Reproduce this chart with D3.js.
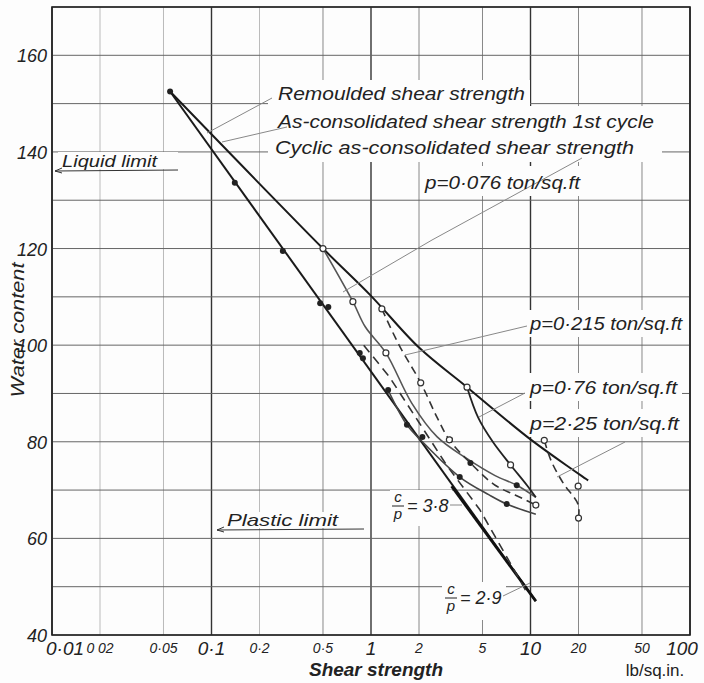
<!DOCTYPE html>
<html>
<head>
<meta charset="utf-8">
<script src="https://cdn.jsdelivr.net/npm/d3@7"></script>
<style>
  body { margin: 0; background: #fff; }
  text { font-family: "Liberation Sans", "DejaVu Sans", sans-serif; font-style: italic; fill: #222; }
</style>
</head>
<body>
<svg id="chart" width="704" height="683"></svg>
<script>
// axis ticks
const xTicks = [0.01, 0.02, 0.05, 0.1, 0.2, 0.5, 1, 2, 5, 10, 20, 50, 100];
const xTickLabels = ["0·01", "0 02", "0·05", "0·1", "0·2", "0·5", "1", "2", "5", "10", "20", "50", "100"];
const xMajor = [0.01, 0.1, 1, 10, 100];
const yGrid = [40, 50, 60, 70, 80, 90, 100, 110, 120, 130, 140, 150, 160, 170];
const yTicks = [40, 60, 80, 100, 120, 140, 160];

// main lines (shear strength lb/sq.in., water content)
const asConsolidated = [[0.055, 152.5], [0.5, 120], [1, 110.2], [2, 99.5], [4, 91.3], [10, 80.5], [23, 72]];
const remoulded = [[0.055, 152.5], [10.8, 47]];
const ratio29 = [[3.2, 70.8], [10.8, 47]];
const ratio38 = [[0.9, 100], [1.3, 93.5], [2, 84], [3, 75], [4.8, 66], [7, 56.5], [9.6, 48.5]];

// cyclic curves
const cyc076 = [[0.5, 120], [0.77, 109], [0.92, 103.8], [1.24, 98.4], [1.8, 88], [2.6, 81], [4, 76.5], [6, 73], [8.2, 71], [10.8, 68.5]];
const cyc215 = [[1.17, 107.5], [1.5, 100], [2.05, 92.2], [2.6, 85], [3.1, 80.4], [4.2, 75.6], [6, 71], [8, 69], [10.8, 66.9]];
const cyc76 = [[4, 91.3], [4.7, 85], [5.8, 80], [7.5, 75.2], [9.5, 71], [10.8, 68.5]];
const cyc225 = [[12.2, 80.3], [13.5, 76], [16, 71.5], [19.9, 67], [20, 64.2]];
const lowCurve = [[1.28, 90.7], [1.68, 83.5], [2.1, 80], [3.6, 72.7], [5.5, 69], [7.1, 67.1], [10.8, 65]];

// measured points
const filledPts = [[0.055, 152.5], [0.14, 133.6], [0.28, 119.5], [0.48, 108.7], [0.54, 107.9], [0.85, 98.4], [0.89, 97.3],
  [1.28, 90.7], [1.68, 83.5], [2.1, 81], [3.13, 80.4], [4.2, 75.6], [3.6, 72.7], [8.2, 71], [7.1, 67.1]];
const openPts = [[0.5, 120], [0.77, 109], [1.17, 107.5], [1.24, 98.4], [2.05, 92.2], [4, 91.3], [7.5, 75.2],
  [10.8, 66.9], [12.2, 80.3], [19.9, 70.8], [20, 64.2], [3.1, 80.4]];

const svg = d3.select("#chart");
const x = d3.scaleLog().domain([0.01, 100]).range([52, 690]);
const y = d3.scaleLinear().domain([40, 170]).range([635, 7]);

svg.append("rect").attr("width", 704).attr("height", 683).attr("fill", "#fdfdfd");

// grid
const gridColor = v => xMajor.includes(v) ? "#333" : ([0.02, 0.05, 0.2].includes(v) ? "#bbb" : "#888");
svg.append("g").selectAll("line")
  .data(xTicks)
  .enter().append("line")
  .attr("x1", d => x(d)).attr("x2", d => x(d))
  .attr("y1", y(170)).attr("y2", y(40))
  .attr("stroke", gridColor)
  .attr("stroke-width", d => xMajor.includes(d) ? 1.4 : 1);

svg.append("g").selectAll("line")
  .data(yGrid)
  .enter().append("line")
  .attr("x1", x(0.01)).attr("x2", x(100))
  .attr("y1", d => y(d)).attr("y2", d => y(d))
  .attr("stroke", "#666").attr("stroke-width", 1);

// white boxes behind legend text
const boxes = [[268, 80, 530, 106], [268, 106, 662, 162], [420, 166, 588, 196],
  [525, 310, 686, 337], [525, 373, 682, 401], [525, 409, 684, 437], [58, 152, 178, 169], [222, 512, 364, 528],
  [390, 490, 452, 526], [442, 582, 506, 620]];
svg.append("g").selectAll("rect")
  .data(boxes)
  .enter().append("rect")
  .attr("x", d => d[0]).attr("y", d => d[1])
  .attr("width", d => d[2] - d[0]).attr("height", d => d[3] - d[1])
  .attr("fill", "#fdfdfd");

// frame
svg.append("rect")
  .attr("x", x(0.01)).attr("y", y(170))
  .attr("width", x(100) - x(0.01)).attr("height", y(40) - y(170))
  .attr("fill", "none").attr("stroke", "#222").attr("stroke-width", 1.6);

// ticks labels
svg.append("g").selectAll("text")
  .data(yTicks)
  .enter().append("text")
  .attr("x", 47).attr("y", d => y(d) + 7)
  .attr("text-anchor", "end")
  .style("font-size", "18px")
  .text(d => d);

svg.append("g").selectAll("text")
  .data(xTicks)
  .enter().append("text")
  .attr("x", d => x(d) + (d === 0.01 ? 13 : d === 100 ? -8 : 0))
  .attr("y", d => xMajor.includes(d) ? 655 : 653)
  .attr("text-anchor", "middle")
  .style("font-size", d => xMajor.includes(d) ? "19px" : "14px")
  .text((d, i) => xTickLabels[i]);

svg.append("text").attr("x", 376).attr("y", 676).attr("text-anchor", "middle")
  .style("font-size", "19px").style("font-weight", "bold").text("Shear strength");
svg.append("text").attr("x", 655).attr("y", 676).attr("text-anchor", "middle")
  .style("font-size", "17px").style("font-style", "normal").text("lb/sq.in.");
svg.append("text").attr("transform", "translate(24,330) rotate(-90)").attr("text-anchor", "middle")
  .attr("textLength", 135).attr("lengthAdjust", "spacingAndGlyphs")
  .style("font-size", "18px").text("Water content");

// lines
const line = d3.line().x(d => x(d[0])).y(d => y(d[1]));
const curve = d3.line().x(d => x(d[0])).y(d => y(d[1])).curve(d3.curveCatmullRom);
const drawLine = (data, gen, color, width, dash) => svg.append("path")
  .datum(data)
  .attr("d", gen)
  .attr("fill", "none")
  .attr("stroke", color)
  .attr("stroke-width", width)
  .attr("stroke-dasharray", dash || null);

drawLine(asConsolidated, curve, "#1a1a1a", 2);
drawLine(remoulded, line, "#1a1a1a", 2);
drawLine(ratio29, line, "#111", 2.8);
drawLine(ratio38, line, "#333", 1.6, "9,6");
drawLine(cyc076, curve, "#555", 1.6);
drawLine(cyc215, curve, "#333", 1.6, "8,5");
drawLine(cyc76, curve, "#222", 1.8);
drawLine(cyc225, curve, "#333", 1.6, "8,5");
drawLine(lowCurve, curve, "#444", 1.6);

// points
svg.append("g").selectAll("circle")
  .data(filledPts)
  .enter().append("circle")
  .attr("cx", d => x(d[0])).attr("cy", d => y(d[1])).attr("r", 3)
  .attr("fill", "#222");
svg.append("g").selectAll("circle")
  .data(openPts)
  .enter().append("circle")
  .attr("cx", d => x(d[0])).attr("cy", d => y(d[1])).attr("r", 3)
  .attr("fill", "#fff").attr("stroke", "#333").attr("stroke-width", 1.2);

// leaders
const leaders = [
  [[272, 98], [207, 133]],
  [[287, 127], [222, 142]],
  [[582, 158], [432, 240], [343, 292]],
  [[527, 326], [405, 355]],
  [[525, 393], [479, 417]],
  [[625, 442], [557, 477]],
  [[450, 505], [462, 505]],
  [[503, 596], [530, 583]]
];
svg.append("g").selectAll("path")
  .data(leaders)
  .enter().append("path")
  .attr("d", d => d3.line()(d))
  .attr("fill", "none").attr("stroke", "#888").attr("stroke-width", 1);

// legend text
const label = (tx, ty, txt, size, width) => {
  const t = svg.append("text").attr("x", tx).attr("y", ty).style("font-size", size + "px").text(txt);
  if (width) t.attr("textLength", width).attr("lengthAdjust", "spacingAndGlyphs");
  return t;
};
label(278, 100, "Remoulded shear strength", 18, 247);
label(278, 128, "As-consolidated shear strength 1st cycle", 18, 376);
label(275, 154, "Cyclic as-consolidated shear strength", 18, 359);
label(425, 189, "p=0·076 ton/sq.ft", 18, 155);
label(530, 330, "p=0·215 ton/sq.ft", 18, 152);
label(530, 394, "p=0·76 ton/sq.ft", 18, 147);
label(530, 430, "p=2·25 ton/sq.ft", 18, 149);
label(62, 167, "Liquid limit", 17, 95);
label(227, 526, "Plastic limit", 17, 111);

// c/p fractions
const frac = (fx, fy, val) => {
  svg.append("text").attr("x", fx).attr("y", fy - 4).attr("text-anchor", "middle").style("font-size", "15px").text("c");
  svg.append("line").attr("x1", fx - 6).attr("x2", fx + 6).attr("y1", fy).attr("y2", fy).attr("stroke", "#222");
  svg.append("text").attr("x", fx).attr("y", fy + 13).attr("text-anchor", "middle").style("font-size", "15px").text("p");
  svg.append("text").attr("x", fx + 9).attr("y", fy + 6).style("font-size", "18px").text("= " + val);
};
frac(398, 506, "3·8");
frac(451, 598, "2·9");

// limit arrows (underline with small head on the left)
svg.append("path").attr("d", "M55,171 L178,170 M55,171 L62,168 M55,171 L62,173").attr("stroke", "#333").attr("fill", "none");
svg.append("path").attr("d", "M217,530 L364,529 M217,530 L224,527 M217,530 L224,532").attr("stroke", "#333").attr("fill", "none");
</script>
</body>
</html>
